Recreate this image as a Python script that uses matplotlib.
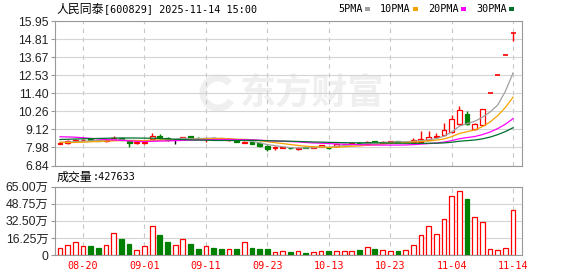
import matplotlib

matplotlib.use("Agg")

import matplotlib.pyplot as plt
from matplotlib.patches import Rectangle, Arc
import pandas as pd

plt.rcParams["font.family"] = ["Liberation Sans", "Noto Sans CJK SC"]

stock_name = "人民同泰"
stock_code = "600829"
timestamp = "2025-11-14 15:00"

dates = [
    "08-15", "08-18", "08-19", "08-20", "08-21", "08-22", "08-25", "08-26", "08-27", "08-28",
    "08-29", "09-01", "09-02", "09-03", "09-04", "09-05", "09-08", "09-09", "09-10", "09-11",
    "09-12", "09-15", "09-16", "09-17", "09-18", "09-19", "09-22", "09-23", "09-24", "09-25",
    "09-26", "09-29", "09-30", "10-09", "10-10", "10-13", "10-14", "10-15", "10-16", "10-17",
    "10-20", "10-21", "10-22", "10-23", "10-24", "10-27", "10-28", "10-29", "10-30", "10-31",
    "11-03", "11-04", "11-05", "11-06", "11-07", "11-10", "11-11", "11-12", "11-13", "11-14",
]
opens = [
    8.22, 8.25, 8.36, 8.42, 8.50, 8.44, 8.38, 8.44, 8.58, 8.36,
    8.25, 8.28, 8.50, 8.72, 8.56, 8.45, 8.50, 8.67, 8.60, 8.50,
    8.60, 8.55, 8.42, 8.42, 8.27, 8.30, 8.25, 8.10, 7.96, 7.95,
    7.97, 7.88, 7.99, 7.97, 8.00, 7.97, 8.05, 8.18, 8.20, 8.28,
    8.22, 8.36, 8.28, 8.33, 8.36, 8.32, 8.31, 8.33, 8.45, 8.62,
    8.75, 8.93, 9.47, 10.10, 9.15, 9.40, 11.42, 12.56, 13.82, 15.20,
]
highs = [
    8.26, 8.42, 8.48, 8.50, 8.52, 8.46, 8.48, 8.71, 8.60, 8.40,
    8.33, 8.36, 8.91, 8.83, 8.62, 8.48, 8.66, 8.70, 8.62, 8.58,
    8.62, 8.57, 8.50, 8.44, 8.40, 8.32, 8.27, 8.12, 8.08, 8.02,
    7.99, 8.02, 8.02, 8.05, 8.14, 7.98, 8.20, 8.22, 8.30, 8.30,
    8.40, 8.38, 8.36, 8.37, 8.38, 8.38, 8.58, 9.00, 9.00, 8.91,
    9.54, 10.00, 10.61, 10.26, 9.55, 10.38, 11.42, 12.56, 13.82, 15.20,
]
lows = [
    8.18, 8.22, 8.32, 8.38, 8.40, 8.36, 8.35, 8.42, 8.42, 7.99,
    8.22, 8.20, 8.48, 8.48, 8.40, 8.19, 8.47, 8.52, 8.52, 8.34,
    8.50, 8.45, 8.38, 8.30, 8.24, 8.18, 8.02, 7.75, 7.84, 7.92,
    7.90, 7.81, 7.94, 7.95, 7.98, 7.90, 8.02, 8.12, 8.18, 8.20,
    8.20, 8.30, 8.26, 8.30, 8.31, 8.30, 8.29, 8.31, 8.42, 8.58,
    8.72, 8.90, 9.40, 9.38, 9.05, 9.37, 11.42, 12.56, 13.82, 14.72,
]
closes = [
    8.23, 8.38, 8.45, 8.47, 8.43, 8.38, 8.45, 8.58, 8.44, 8.28,
    8.31, 8.33, 8.71, 8.55, 8.45, 8.45, 8.65, 8.54, 8.56, 8.55,
    8.54, 8.48, 8.46, 8.32, 8.33, 8.20, 8.04, 7.90, 7.98, 7.99,
    7.92, 7.92, 7.96, 8.02, 8.12, 7.95, 8.18, 8.20, 8.28, 8.22,
    8.33, 8.32, 8.34, 8.36, 8.33, 8.35, 8.44, 8.53, 8.66, 8.72,
    9.09, 9.76, 10.35, 9.47, 9.44, 10.38, 11.42, 12.56, 13.82, 15.20,
]
# volume in 万手
volumes = [
    6.3, 9.2, 12.0, 8.6, 8.6, 6.7, 9.2, 20.6, 15.2, 10.5,
    4.4, 8.6, 27.3, 19.0, 12.4, 9.2, 14.9, 10.5, 5.7, 8.6,
    6.7, 5.7, 5.4, 5.7, 12.0, 6.7, 5.7, 5.7, 2.5, 4.1,
    2.9, 3.5, 1.9, 2.5, 3.5, 3.8, 3.5, 3.5, 3.5, 4.8,
    7.6, 5.7, 4.4, 3.5, 3.8, 4.4, 9.2, 18.7, 27.3, 19.7,
    34.2, 55.8, 60.5, 53.3, 36.5, 31.1, 5.4, 4.4, 6.3, 42.7633,
]
# closes of the 29 sessions before the window, only feed the moving averages
prior_closes = [
    7.95, 8.00, 8.05, 8.02, 8.10, 8.15, 8.20, 8.25, 8.30, 8.38,
    8.55, 8.80, 9.10, 9.25, 9.20, 9.15, 9.05, 8.95, 8.90, 8.95,
    8.60, 8.40, 8.30, 8.20, 8.15, 8.25, 8.30, 8.35, 8.32,
]

price_ticks = [6.84, 7.98, 9.12, 10.26, 11.40, 12.53, 13.67, 14.81, 15.95]
volume_ticks = [0, 16.25, 32.50, 48.75, 65.00]
date_labels = ["08-20", "09-01", "09-11", "09-23", "10-13", "10-23", "11-04", "11-14"]
ma_periods = [5, 10, 20, 30]
ma_colors = ["#a0a0a0", "#f5a300", "#ff00ff", "#00702e"]

RED = "#ff0000"
GREEN = "#008000"
GRID = "#d4d4d4"
FRAME = "#999999"
WATERMARK = "#efefef"

W, H = 578, 276
fig = plt.figure(figsize=(W / 100, H / 100), dpi=100)


def fx(px):
    return px / W


def fy(py):
    return 1 - py / H


ax_p = fig.add_axes([fx(55), fy(165.5), fx(467), 144.5 / H])
ax_v = fig.add_axes([fx(55), fy(255), fx(467), 68.3 / H])

n = len(closes)
xs = list(range(n))
date_pos = [dates.index(d) for d in date_labels]

# candles
for i in xs:
    o, h, l, c = opens[i], highs[i], lows[i], closes[i]
    prev = closes[i - 1] if i > 0 else prior_closes[-1]
    if c > o:
        col, fill = RED, "white"
    elif c < o:
        col, fill = GREEN, GREEN
    else:
        col = RED if c > prev else (GREEN if c < prev else "black")
        fill = None
    ax_p.vlines(i, l, h, color=col, lw=1.0, zorder=3)
    if fill is None:
        ax_p.hlines(c, i - 0.33, i + 0.33, color=col, lw=1.2, zorder=3)
    else:
        ax_p.add_patch(Rectangle((i - 0.32, min(o, c)), 0.64, abs(c - o),
                                 facecolor=fill, edgecolor=col, lw=0.9, zorder=4))

# moving averages
all_closes = pd.Series(prior_closes + closes)
for p, col in zip(ma_periods, ma_colors):
    ma = all_closes.rolling(p).mean().values[len(prior_closes):]
    ax_p.plot(xs, ma, color=col, lw=0.9, zorder=5)

ax_p.set_xlim(-0.65, 60.16)
ax_p.set_ylim(price_ticks[0], price_ticks[-1])
ax_p.set_yticks(price_ticks)
ax_p.set_yticklabels([f"{v:.2f}" for v in price_ticks])
ax_p.set_xticks([])
ax_p.grid(axis="y", color=GRID, lw=0.8, zorder=0)
for d in date_pos:
    ax_p.axvline(d, color="#c8c8c8", lw=0.8, ls=(0, (4, 4)), zorder=1)

# watermark: logo ring + name (logo placed in display pixels)
ax_p.add_patch(Arc((218, H - 93), 30, 30, theta1=40, theta2=330, transform=None,
                   color=WATERMARK, lw=5, zorder=0))
ax_p.text((240 - 55) / 467, (165.5 - 93) / 144.5, "东方财富", transform=ax_p.transAxes,
          fontsize=26, fontweight="bold", color=WATERMARK, family="Noto Sans CJK SC",
          ha="left", va="center", zorder=0)

# volume
for i in xs:
    up = closes[i] >= opens[i]
    col = RED if up else GREEN
    ax_v.add_patch(Rectangle((i - 0.31, 0), 0.62, volumes[i],
                             facecolor="white" if up else GREEN, edgecolor=col, lw=0.9, zorder=3))

ax_v.set_xlim(-0.65, 60.16)
ax_v.set_ylim(volume_ticks[0], volume_ticks[-1])
ax_v.set_yticks(volume_ticks)
ax_v.set_yticklabels(["0" if v == 0 else f"{v:.2f}万" for v in volume_ticks])
ax_v.grid(axis="y", color=GRID, lw=0.8, zorder=0)
for d in date_pos:
    ax_v.axvline(d, color="#c8c8c8", lw=0.8, ls=(0, (4, 4)), zorder=1)
ax_v.set_xticks(date_pos)
ax_v.set_xticklabels(date_labels, family="DejaVu Sans Mono", fontsize=7.3, color=RED)
ax_v.tick_params(axis="x", length=0, pad=4)

for ax in (ax_p, ax_v):
    for s in ax.spines.values():
        s.set_color(FRAME)
        s.set_linewidth(0.8)
    ax.tick_params(axis="y", direction="out", length=3, width=0.8, color=FRAME,
                   pad=1.5, labelsize=8.8, labelcolor="#222222")

# header texts
fig.text(fx(56), fy(9), stock_name, fontsize=8.6, family="Noto Sans CJK SC", va="center", ha="left")
fig.text(fx(104), fy(9), f"[{stock_code}] {timestamp}", fontsize=7.3, family="DejaVu Sans Mono",
         va="center", ha="left")

cursor = 338
for p, col in zip(ma_periods, ma_colors):
    label = f"{p}PMA"
    fig.text(fx(cursor), fy(9), label, fontsize=7.3, family="DejaVu Sans Mono", va="center", ha="left")
    cursor += 6 * len(label) + 3
    fig.add_artist(Rectangle((fx(cursor), fy(10.7)), 5 / W, 3.2 / H, facecolor=col,
                             edgecolor="none", transform=fig.transFigure))
    cursor += 5 + 10

fig.text(fx(57), fy(177), "成交量", fontsize=8.6, family="Noto Sans CJK SC", va="center", ha="left")
fig.text(fx(93), fy(177), f":{int(round(volumes[-1] * 10000))}", fontsize=7.3,
         family="DejaVu Sans Mono", va="center", ha="left")

fig.savefig("out.png", dpi=100)
